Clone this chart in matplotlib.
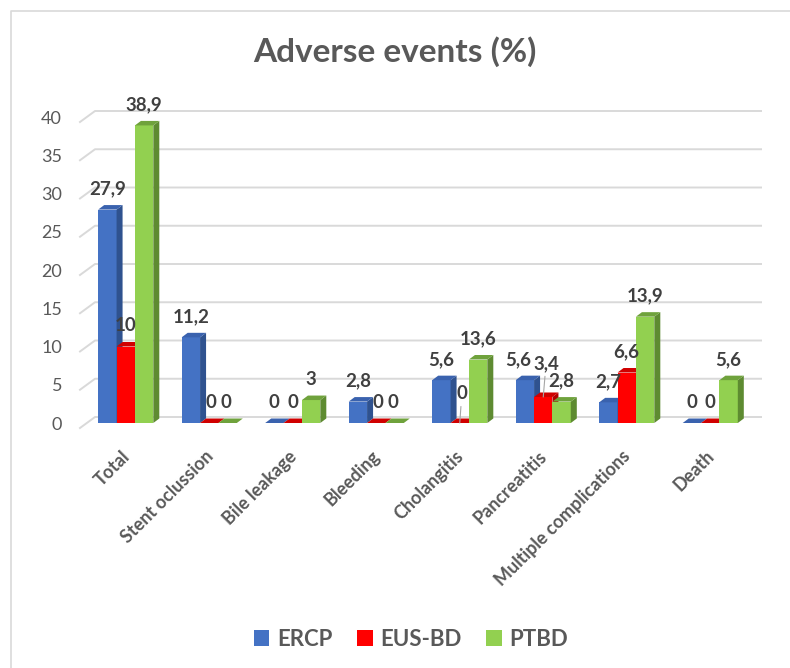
import matplotlib
matplotlib.use("Agg")
import matplotlib.pyplot as plt
from matplotlib.patches import Polygon, Patch
from matplotlib.lines import Line2D

plt.rcParams["font.family"] = ["Lato", "DejaVu Sans"]

categories = ["Total", "Stent oclussion", "Bile leakage", "Bleeding",
              "Cholangitis", "Pancreatitis", "Multiple complications", "Death"]
series = ["ERCP", "EUS-BD", "PTBD"]

# bar heights as drawn in the picture (PTBD cholangitis bar is drawn lower than its label)
ercp = [27.9, 11.2, 0, 2.8, 5.6, 5.6, 2.7, 0]
eus_bd = [10, 0, 0, 0, 0, 3.4, 6.6, 0]
ptbd = [38.9, 0, 3, 0, 8.3, 2.8, 13.9, 5.6]

# data labels as printed on the chart
ercp_labels = ["27,9", "11,2", "0", "2,8", "5,6", "5,6", "2,7", "0"]
eus_bd_labels = ["10", "0", "0", "0", "0", "3,4", "6,6", "0"]
ptbd_labels = ["38,9", "0", "3", "0", "13,6", "2,8", "13,9", "5,6"]

y_ticks = [0, 5, 10, 15, 20, 25, 30, 35, 40]

values = [ercp, eus_bd, ptbd]
labels = [ercp_labels, eus_bd_labels, ptbd_labels]
front = ["#4472C4", "#FF0000", "#92D050"]
side = ["#2F528F", "#B00000", "#5E8B31"]
top = ["#3A62AE", "#D00000", "#6FA23C"]

TEXT = "#595959"
GRID = "#D9D9D9"

W, H = 790, 668
fig = plt.figure(figsize=(W / 100, H / 100), dpi=100)
fig.patch.set_facecolor("white")

# axes placed so that x=-0.5..7.5 and y=0..40 land where the reference puts them
ax = fig.add_axes([84 / W, 245 / H, 668 / W, 306 / H])
ax.set_xlim(-0.5, 7.5)
ax.set_ylim(0, 40)
ax.axis("off")

xpx = 668 / 8      # pixels per category
ypx = 306 / 40     # pixels per unit
dx, dy = 6 / xpx, 4.5 / ypx

# 3D-ish gridlines: short stub at the front, line along the back wall
for v in y_ticks:
    ax.plot([-0.548, -0.368, 7.608],
            [v - 5 / ypx, v + 6 / ypx, v + 6 / ypx],
            color=GRID, lw=1.4, zorder=1, clip_on=False)
    ax.text(-0.5 - 22 / xpx, v - 0.2, str(v), ha="right", va="center",
            fontsize=13, color=TEXT)

width = 0.22
offsets = [-width, 0, width]

# (category, series) -> label offset in points, and whether a leader line is used
label_tweaks = {(4, 1): (1.5, 21, True), (5, 1): (2, 24, True), (5, 0): (-5, 15, False),
                (1, 1): (1.5, 15, False), (1, 2): (-1.5, 15, False),
                (3, 1): (1.5, 15, False), (3, 2): (-1.5, 15, False)}

for j, vals in enumerate(values):
    xs = [i + offsets[j] for i in range(len(categories))]
    ax.bar(xs, vals, width=width, color=front[j], zorder=3 + j, clip_on=False)
    for i, (x, h) in enumerate(zip(xs, vals)):
        x0, x1 = x - width / 2, x + width / 2
        ax.add_patch(Polygon([(x1, 0), (x1 + dx, dy), (x1 + dx, h + dy), (x1, h)],
                             closed=True, facecolor=side[j], edgecolor="none",
                             zorder=3 + j, clip_on=False))
        ax.add_patch(Polygon([(x0, h), (x0 + dx, h + dy), (x1 + dx, h + dy), (x1, h)],
                             closed=True, facecolor=top[j], edgecolor="none",
                             zorder=3 + j, clip_on=False))
        ox, oy, leader = label_tweaks.get((i, j), (0, 15, False))
        kw = {}
        if leader:
            kw["arrowprops"] = dict(arrowstyle="-", color="#A6A6A6", lw=0.8,
                                    shrinkA=1, shrinkB=0)
        ax.annotate(labels[j][i], (x, h), xytext=(ox, oy), textcoords="offset points",
                    ha="center", va="center", fontsize=13.5, fontweight="bold",
                    color="#404040", zorder=10, annotation_clip=False, **kw)

for i, cat in enumerate(categories):
    ax.text(i - 0.06, -3.2, cat, rotation=45, rotation_mode="anchor",
            ha="right", va="top", fontsize=13, fontweight="bold", color=TEXT)

fig.text(0.5, 1 - 52 / H, "Adverse events (%)", ha="center", va="center",
         fontsize=24, fontweight="bold", color=TEXT)

handles = [Patch(facecolor=c, edgecolor="none") for c in front]
leg = fig.legend(handles, series, loc="center", bbox_to_anchor=(411 / W, 1 - 639 / H),
                 ncol=3, frameon=False, handlelength=0.7, handleheight=0.7,
                 handletextpad=0.35, columnspacing=1.1,
                 prop={"size": 16, "weight": "bold"})
for t in leg.get_texts():
    t.set_color(TEXT)

# chart-area border (only left and top visible in the crop)
fig.add_artist(Line2D([11 / W, 11 / W, 1.0], [0.0, 1 - 11 / H, 1 - 11 / H],
                      transform=fig.transFigure, color=GRID, lw=1.2))

fig.savefig("out.png", dpi=100, facecolor="white")
